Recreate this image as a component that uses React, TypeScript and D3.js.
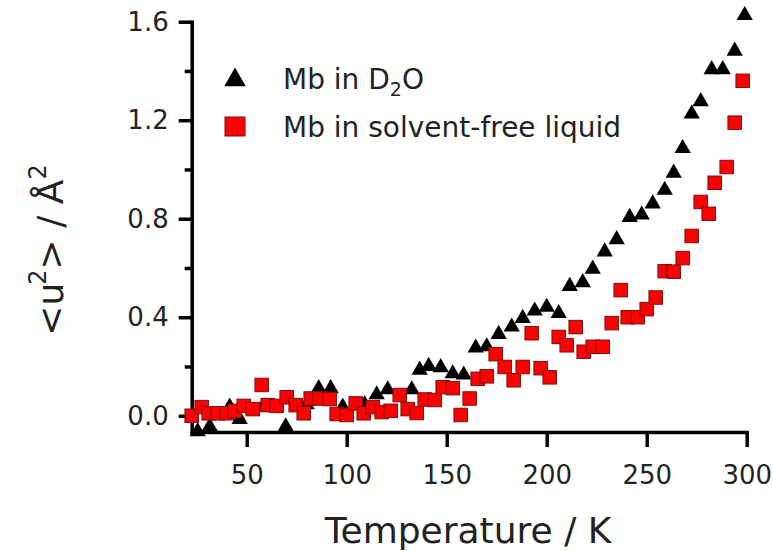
import React, { useRef, useEffect } from "react";
import * as d3 from "d3";

// Mb in D2O (triangles)
const d2oTemp = [25.5, 31.5, 41.5, 46.5, 58, 69.5, 80, 86, 92, 98, 109, 115, 120.5, 132.5, 136.5, 141, 147, 153, 158.5, 164.5, 170, 176, 182.5, 188, 194, 200, 206, 211.5, 218, 223, 229, 235, 241.5, 247.5, 253, 259, 263.5, 268, 272.5, 277, 282.5, 288, 294, 299];
const d2oU2 = [-0.06, -0.04, 0.04, -0.01, 0.04, -0.04, 0.05, 0.115, 0.115, 0.04, 0.05, 0.09, 0.11, 0.11, 0.19, 0.205, 0.2, 0.175, 0.17, 0.28, 0.285, 0.335, 0.365, 0.4, 0.43, 0.445, 0.42, 0.53, 0.545, 0.6, 0.67, 0.72, 0.81, 0.82, 0.865, 0.92, 0.99, 1.09, 1.23, 1.28, 1.41, 1.41, 1.485, 1.63];

// Mb in solvent-free liquid (squares)
const sflTemp = [22.5, 27.5, 31, 35.5, 40, 44, 48.5, 53, 57.5, 60.5, 65, 70, 74.5, 78.5, 82, 86.5, 91.5, 95, 100, 104.5, 108.5, 113, 117.5, 122, 126.5, 130.5, 135, 139, 144, 148, 153, 157, 161.5, 165.5, 170, 174.5, 179, 183.5, 188, 192.5, 197, 201.5, 206, 210, 214.5, 218.5, 223, 228, 232.5, 237, 240.5, 245.5, 250, 254.5, 259, 263.5, 268, 272.5, 277, 281, 284, 290, 294, 298];
const sflU2 = [0.0, 0.035, 0.01, 0.01, 0.01, 0.02, 0.04, 0.027, 0.125, 0.043, 0.04, 0.075, 0.043, 0.01, 0.07, 0.07, 0.068, 0.007, 0.003, 0.05, 0.01, 0.035, 0.015, 0.02, 0.084, 0.027, 0.011, 0.066, 0.064, 0.116, 0.112, 0.003, 0.07, 0.15, 0.16, 0.25, 0.198, 0.144, 0.198, 0.335, 0.193, 0.156, 0.32, 0.286, 0.36, 0.26, 0.28, 0.28, 0.376, 0.51, 0.4, 0.4, 0.433, 0.48, 0.587, 0.585, 0.64, 0.73, 0.868, 0.82, 0.946, 1.01, 1.19, 1.36];

const xTicks = [50, 100, 150, 200, 250, 300];
const yTicks = [0, 0.4, 0.8, 1.2, 1.6];
const yMinorTicks = [0.2, 0.6, 1.0, 1.4];

const FONT = "'DejaVu Sans', Verdana, sans-serif";

export default function App() {
  const svgRef = useRef<SVGSVGElement>(null);

  useEffect(() => {
    const svg = d3.select(svgRef.current);
    svg.selectAll("*").remove();

    const width = 773;
    const height = 551;
    svg.attr("width", width).attr("height", height);

    const x = d3.scaleLinear().domain([22.5, 300]).range([191.7, 746.7]);
    const y = d3.scaleLinear().domain([-0.066, 1.6]).range([432, 21.7]);

    const axisW = 3.5;

    // y axis
    const gy = svg.append("g").attr("transform", `translate(${x(22.5)},0)`);
    gy.call(
      d3.axisLeft(y).tickValues(yTicks).tickSize(13).tickSizeOuter(0).tickPadding(10)
        .tickFormat(d3.format(".1f") as any)
    );
    const gyMinor = svg.append("g").attr("transform", `translate(${x(22.5)},0)`);
    gyMinor.call(d3.axisLeft(y).tickValues(yMinorTicks).tickSize(7).tickFormat(() => ""));
    gyMinor.select(".domain").remove();

    // x axis
    const gx = svg.append("g").attr("transform", `translate(0,${y(-0.066)})`);
    gx.call(d3.axisBottom(x).tickValues(xTicks).tickSize(15).tickSizeOuter(0).tickPadding(19));

    svg.selectAll(".domain").attr("stroke", "#000").attr("stroke-width", axisW).attr("stroke-linecap", "square");
    svg.selectAll(".tick line").attr("stroke", "#000").attr("stroke-width", axisW);
    svg.selectAll(".tick text")
      .attr("fill", "#222")
      .style("font-family", FONT)
      .style("font-size", "26px");

    // triangles
    const tri = d3.symbol().type(d3.symbolTriangle).size(115);
    svg.append("g")
      .selectAll("path")
      .data(d2oTemp.map((t, i) => [t, d2oU2[i]]))
      .join("path")
      .attr("d", tri as any)
      .attr("transform", (d) => `translate(${x(d[0])},${y(d[1]) + 1})`)
      .attr("fill", "#000");

    // squares
    const sq = 13.5;
    svg.append("g")
      .selectAll("rect")
      .data(sflTemp.map((t, i) => [t, sflU2[i]]))
      .join("rect")
      .attr("x", (d) => x(d[0]) - sq / 2)
      .attr("y", (d) => y(d[1]) - sq / 2)
      .attr("width", sq)
      .attr("height", sq)
      .attr("fill", "#ff0000")
      .attr("stroke", "#7a1010")
      .attr("stroke-width", 1);

    // legend
    const leg = svg.append("g").style("font-family", FONT).attr("fill", "#222");
    leg.append("path")
      .attr("d", d3.symbol().type(d3.symbolTriangle).size(200) as any)
      .attr("transform", "translate(235,80)")
      .attr("fill", "#000");
    const t1 = leg.append("text").attr("x", 283).attr("y", 89).style("font-size", "28px");
    t1.append("tspan").text("Mb in D");
    t1.append("tspan").attr("dy", 7).style("font-size", "19px").text("2");
    t1.append("tspan").attr("dy", -7).text("O");

    leg.append("rect")
      .attr("x", 225).attr("y", 117).attr("width", 20).attr("height", 19)
      .attr("fill", "#ff0000").attr("stroke", "#7a1010").attr("stroke-width", 1);
    leg.append("text").attr("x", 283).attr("y", 137).style("font-size", "28px").text("Mb in solvent-free liquid");

    // axis titles
    svg.append("text")
      .attr("x", 468).attr("y", 543)
      .attr("text-anchor", "middle")
      .style("font-family", FONT).style("font-size", "36px").attr("fill", "#222")
      .text("Temperature / K");

    const yt = svg.append("text")
      .attr("transform", "translate(63,250) rotate(-90)")
      .attr("text-anchor", "middle")
      .style("font-family", FONT).style("font-size", "36px").attr("fill", "#222");
    yt.append("tspan").text("<u");
    yt.append("tspan").attr("dy", -17).attr("dx", -2).style("font-size", "24px").text("2");
    yt.append("tspan").attr("dy", 17).text("> / Å");
    yt.append("tspan").attr("dy", -17).style("font-size", "24px").text("2");
  }, []);

  return <svg ref={svgRef} style={{ position: "absolute", left: 0, top: 0 }} />;
}
